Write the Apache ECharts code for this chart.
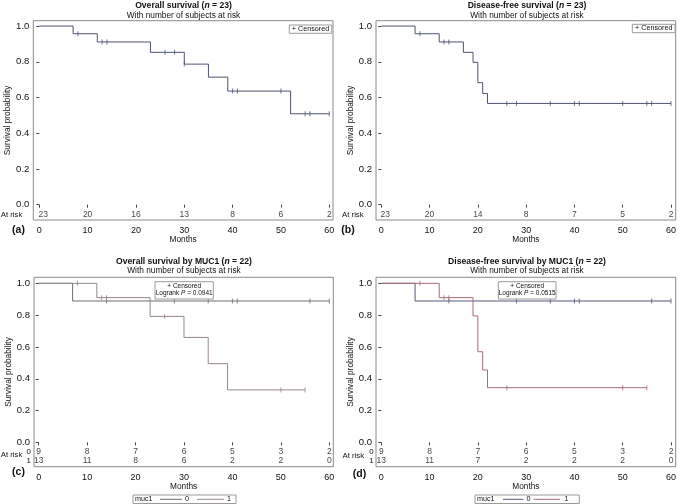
<!DOCTYPE html>
<html><head><meta charset="utf-8">
<script src="https://cdn.jsdelivr.net/npm/echarts@6/dist/echarts.min.js"></script>
<style>html,body{margin:0;padding:0;background:#fff}#c{width:679px;height:504px}</style>
</head><body><div id="c"></div>
<script>
// ---------- data ----------
const monthTicks = [0, 10, 20, 30, 40, 50, 60];
const probTicks = [0, 0.2, 0.4, 0.6, 0.8, 1.0];

// (a) Overall survival (n = 23)
const osTime = [0, 7, 12, 23, 30, 35, 39, 52, 60];
const osSurv = [1.0, 0.957, 0.911, 0.853, 0.787, 0.714, 0.636, 0.509, 0.509];
const osCensor = [8, 13, 14, 26, 28, 30, 40, 41, 50, 55, 56, 60];
const osRisk = [23, 20, 16, 13, 8, 6, 2];

// (b) Disease-free survival (n = 23)
const dfsTime = [0, 7, 12, 17, 19, 20, 21, 22, 60];
const dfsSurv = [1.0, 0.957, 0.911, 0.853, 0.797, 0.683, 0.623, 0.567, 0.567];
const dfsCensor = [8, 13, 14, 26, 28, 35, 40, 41, 50, 55, 56, 60];
const dfsRisk = [23, 20, 14, 8, 7, 5, 2];

// (c) Overall survival by MUC1 (n = 22)
const osM0Time = [0, 7, 60];
const osM0Surv = [1.0, 0.889, 0.889];
const osM0Censor = [14, 28, 35, 40, 41, 56, 60];
const osM0Risk = [9, 8, 7, 6, 5, 3, 2];
const osM1Time = [0, 12, 23, 30, 35, 39, 55];
const osM1Surv = [1.0, 0.91, 0.792, 0.66, 0.495, 0.33, 0.33];
const osM1Censor = [8, 13, 14, 26, 50, 55];
const osM1Risk = [13, 11, 8, 6, 2, 2, 0];

// (d) Disease-free survival by MUC1 (n = 22)
const dfsM0Time = [0, 7, 60];
const dfsM0Surv = [1.0, 0.889, 0.889];
const dfsM0Censor = [14, 28, 35, 40, 41, 56, 60];
const dfsM0Risk = [9, 8, 7, 6, 5, 3, 2];
const dfsM1Time = [0, 12, 19, 20, 21, 22, 55];
const dfsM1Surv = [1.0, 0.91, 0.795, 0.57, 0.455, 0.344, 0.344];
const dfsM1Censor = [8, 13, 14, 26, 50, 55];
const dfsM1Risk = [13, 11, 7, 2, 2, 2, 0];

// ---------- helpers ----------
const FONT = 'Liberation Sans, Arial, Helvetica, sans-serif';
function km(t, s) { return t.map((v, i) => [v, s[i]]); }
function survAt(t, times, surv) {
  let k = 0;
  for (let i = 0; i < times.length; i++) if (times[i] <= t) k = i;
  return surv[k];
}
function cens(c, times, surv) { return c.map(t => [t, survAt(t, times, surv)]); }
function riskPts(r, y) { return monthTicks.map((m, i) => [m, y, r[i]]); }

const grids = [
  { left: 33.3, top: 20.7, width: 299.7, height: 199.3 },
  { left: 376, top: 20.7, width: 300.7, height: 199.3 },
  { left: 34, top: 277.3, width: 299.3, height: 189.4 },
  { left: 376, top: 277.3, width: 300.7, height: 189.4 }
];
const xr = [[-1.24, 60.77], [-1.094, 60.97], [-0.97, 60.83], [-1.094, 60.97]];
const yr = [[-0.0856, 1.030], [-0.0856, 1.030], [-0.153, 1.038], [-0.153, 1.038]];

const xAxes = grids.map((g, i) => ({
  type: 'value', gridIndex: i, min: xr[i][0], max: xr[i][1],
  axisLine: { show: false }, splitLine: { show: false },
  axisTick: { show: true, customValues: monthTicks, length: 3, lineStyle: { color: '#444' } },
  axisLabel: { customValues: monthTicks, fontSize: 9, margin: 6, color: '#111', fontFamily: FONT },
  name: 'Months', nameLocation: 'middle', nameGap: i < 2 ? 15.5 : 14.3,
  nameTextStyle: { fontSize: 8.3, color: '#111', fontFamily: FONT, verticalAlign: 'top' }
}));
const yAxes = grids.map((g, i) => ({
  type: 'value', gridIndex: i, min: yr[i][0], max: yr[i][1],
  axisLine: { show: false }, splitLine: { show: false },
  axisTick: { show: true, customValues: probTicks, length: 3, lineStyle: { color: '#444' } },
  axisLabel: { customValues: probTicks, fontSize: 9.5, margin: 4, color: '#111', fontFamily: FONT,
    formatter: v => v.toFixed(1) },
  name: 'Survival probability', nameLocation: 'middle', nameGap: 21.5,
  nameTextStyle: { fontSize: 8.3, color: '#111', fontFamily: FONT }
}));

const C_A = '#4d5373';
const C_C0 = '#6f6f6f', C_C1 = '#958884';
const C_D0 = '#555a78', C_D1 = '#a86a78';

function curve(i, data, color, z) {
  return { type: 'line', xAxisIndex: i, yAxisIndex: i, data: data, step: 'end',
    showSymbol: false, symbol: 'none', lineStyle: { color: color, width: 1 }, z: z, silent: true, animation: false };
}
function censSeries(i, data, color, z) {
  return { type: 'scatter', xAxisIndex: i, yAxisIndex: i, data: data, symbol: 'rect',
    symbolSize: [1, 5], itemStyle: { color: color }, z: z, silent: true, animation: false };
}
function riskSeries(i, data, firstLeft) {
  return { type: 'scatter', xAxisIndex: i, yAxisIndex: i, data: data, symbolSize: 0, silent: true, animation: false,
    label: { show: true, position: 'inside', fontSize: 8.5, color: '#111', fontFamily: FONT,
      formatter: p => String(p.value[2]) },
    labelLayout: firstLeft ? function (p) { return p.dataIndex === 0 ? { dx: 4 } : {}; } : undefined };
}

const series = [
  curve(0, km(osTime, osSurv), C_A, 3),
  censSeries(0, cens(osCensor, osTime, osSurv), C_A, 4),
  riskSeries(0, riskPts(osRisk, -0.058), true),

  curve(1, km(dfsTime, dfsSurv), C_A, 3),
  censSeries(1, cens(dfsCensor, dfsTime, dfsSurv), C_A, 4),
  riskSeries(1, riskPts(dfsRisk, -0.058), true),

  curve(2, km(osM0Time, osM0Surv), C_C0, 3),
  censSeries(2, cens(osM0Censor, osM0Time, osM0Surv), C_C0, 4),
  curve(2, km(osM1Time, osM1Surv), C_C1, 5),
  censSeries(2, cens(osM1Censor, osM1Time, osM1Surv), C_C1, 6),
  riskSeries(2, riskPts(osM0Risk, -0.061), false),
  riskSeries(2, riskPts(osM1Risk, -0.116), false),

  curve(3, km(dfsM0Time, dfsM0Surv), C_D0, 3),
  censSeries(3, cens(dfsM0Censor, dfsM0Time, dfsM0Surv), C_D0, 4),
  curve(3, km(dfsM1Time, dfsM1Surv), C_D1, 5),
  censSeries(3, cens(dfsM1Censor, dfsM1Time, dfsM1Surv), C_D1, 6),
  riskSeries(3, riskPts(dfsM0Risk, -0.061), false),
  riskSeries(3, riskPts(dfsM1Risk, -0.116), false)
];

// ---------- annotation text ----------
function txt(x, y, text, size, opts) {
  opts = opts || {};
  return { type: 'text', x: x, y: y, z: 100, silent: true,
    style: { text: text, fill: '#111', font: (opts.bold ? 'bold ' : '') + size + 'px ' + FONT,
      align: opts.align || 'center', verticalAlign: 'middle', rich: opts.rich } };
}
function titleRich(a, n, b) {
  return { text: '{b|' + a + '}{bi|n}{b|' + b + '}', rich: {
    b: { fontWeight: 'bold', fontSize: 8.6, fontFamily: FONT, fill: '#111' },
    bi: { fontWeight: 'bold', fontStyle: 'italic', fontSize: 8.6, fontFamily: FONT, fill: '#111' } } };
}
function title(x, y, a, b) {
  const r = titleRich(a, 'n', b);
  return { type: 'text', x: x, y: y, z: 100, silent: true,
    style: { text: r.text, rich: r.rich, align: 'center', verticalAlign: 'middle' } };
}
function box(x, y, w, h) {
  return { type: 'rect', z: 90, silent: true, shape: { x: x, y: y, width: w, height: h },
    style: { fill: '#fff', stroke: '#9a9a9a', lineWidth: 1 } };
}
function seg(x1, x2, y, color) {
  return { type: 'line', z: 100, silent: true, shape: { x1: x1, y1: y, x2: x2, y2: y },
    style: { stroke: color, lineWidth: 1 } };
}
const logrankRich = {
  t: { fontSize: 6.5, fontFamily: FONT, fill: '#111' },
  i: { fontSize: 6.5, fontFamily: FONT, fontStyle: 'italic', fill: '#111' } };

const graphic = [
  // titles
  title(183.5, 5.5, 'Overall survival (', ' = 23)'),
  txt(183.5, 15.5, 'With number of subjects at risk', 8.3),
  title(527, 5.5, 'Disease-free survival (', ' = 23)'),
  txt(527, 15.5, 'With number of subjects at risk', 8.3),
  title(184, 261.5, 'Overall survival by MUC1 (', ' = 22)'),
  txt(184, 271, 'With number of subjects at risk', 8.3),
  title(527, 261.5, 'Disease-free survival by MUC1 (', ' = 22)'),
  txt(527, 271, 'With number of subjects at risk', 8.3),
  // panel labels
  txt(18.5, 230.5, '(a)', 10.5, { bold: true }),
  txt(348, 230.5, '(b)', 10.5, { bold: true }),
  txt(18.5, 472.5, '(c)', 10.5, { bold: true }),
  txt(359.5, 474, '(d)', 10.5, { bold: true }),
  // at risk labels
  txt(0.7, 215, 'At risk', 7.8, { align: 'left' }),
  txt(342, 215, 'At risk', 7.8, { align: 'left' }),
  txt(0.7, 455, 'At risk', 7.8, { align: 'left' }),
  txt(28.7, 452, '0', 7.8), txt(28.7, 460.7, '1', 7.8),
  txt(342.5, 455.5, 'At risk', 7.8, { align: 'left' }),
  txt(371.5, 452, '0', 7.8), txt(371.5, 460.7, '1', 7.8),
  // censored legends (a), (b)
  box(289.3, 25, 42.4, 8.3), txt(310.5, 29.2, '+ Censored', 7.2),
  box(632.3, 24.3, 42.7, 8.4), txt(653.7, 28.5, '+ Censored', 7.2),
  // censored + logrank (c), (d)
  box(155, 281.7, 58.3, 17.3), txt(184.2, 286.3, '+ Censored', 6.5),
  { type: 'text', x: 184.2, y: 293.6, z: 100, silent: true,
    style: { text: '{t|Logrank }{i|P}{t| = 0.0941}', rich: logrankRich, align: 'center', verticalAlign: 'middle' } },
  box(498.3, 281.7, 57.7, 17.3), txt(527.2, 286.3, '+ Censored', 6.5),
  { type: 'text', x: 527.2, y: 293.6, z: 100, silent: true,
    style: { text: '{t|Logrank }{i|P}{t| = 0.0951}'.replace('0951', '0515'), rich: logrankRich, align: 'center', verticalAlign: 'middle' } },
  // bottom legends (c), (d)
  box(133, 495, 103, 8.5),
  txt(135, 499.3, 'muc1', 7.2, { align: 'left' }),
  seg(160, 182, 499.3, C_C0), txt(187, 499.3, '0', 7.2),
  seg(197, 224, 499.3, C_C1), txt(229, 499.3, '1', 7.2),
  box(475, 495, 104.3, 8.5),
  txt(477, 499.3, 'muc1', 7.2, { align: 'left' }),
  seg(503, 523.5, 499.3, C_D0), txt(528.5, 499.3, '0', 7.2),
  seg(533.5, 560, 499.3, C_D1), txt(566.5, 499.3, '1', 7.2)
];

const chart = echarts.init(document.getElementById('c'), null, { renderer: 'canvas' });
chart.setOption({
  animation: false,
  backgroundColor: '#fff',
  grid: grids.map(g => Object.assign({ show: true, borderColor: '#8a8a8a', borderWidth: 1, backgroundColor: 'transparent' }, g)),
  xAxis: xAxes,
  yAxis: yAxes,
  series: series,
  graphic: graphic
});
</script>
</body></html>
